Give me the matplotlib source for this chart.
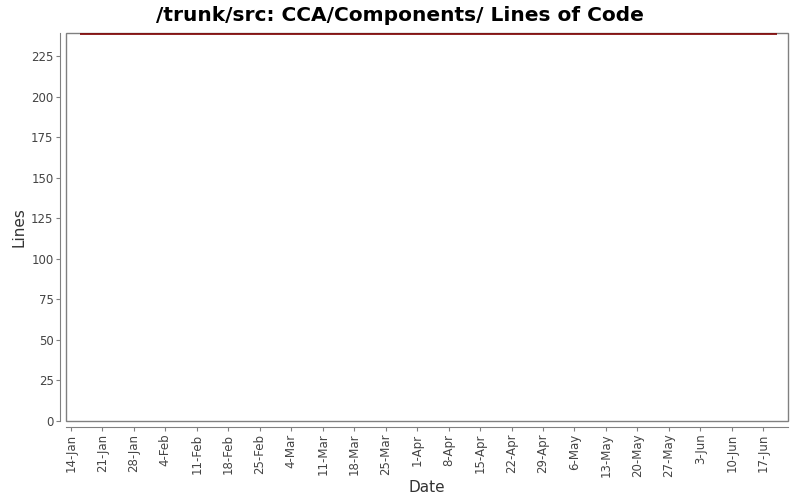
import datetime as dt
import matplotlib
matplotlib.use("Agg")
import matplotlib.pyplot as plt
import matplotlib.dates as mdates
from matplotlib.patches import Rectangle

# datos
dates = [dt.date(2013, 1, 16), dt.date(2013, 6, 20)]
lines = [239, 239]
tick_dates = [dt.date(2013, 1, 14) + dt.timedelta(days=7 * i) for i in range(23)]
tick_labels = [f"{d.day}-{d.strftime('%b')}" for d in tick_dates]
y_ticks = list(range(0, 226, 25))

fig = plt.figure(figsize=(8, 5), dpi=100)
ax = fig.add_axes([66 / 800, 1 - 421 / 500, (788 - 66) / 800, (421 - 33) / 500])

ax.plot(dates, lines, color="#800000", lw=1.2, solid_capstyle="butt")

ax.set_xlim(mdates.date2num(dt.date(2013, 1, 13)) - 0.1, mdates.date2num(dt.date(2013, 6, 22)) + 0.5)
ax.set_ylim(0, 239.5)

ax.set_xticks([mdates.date2num(d) for d in tick_dates])
ax.xaxis.set_major_formatter(plt.FixedFormatter(tick_labels))
ax.tick_params(axis="x", labelrotation=90, labelsize=8.5, labelcolor="#444444")
ax.set_yticks(y_ticks)
ax.set_yticklabels([str(v) for v in y_ticks])
ax.tick_params(axis="y", labelsize=8.5, labelcolor="#444444")

for s in ["top", "right"]:
    ax.spines[s].set_visible(False)
for s in ["left", "bottom"]:
    ax.spines[s].set_position(("outward", 4))
    ax.spines[s].set_color("#808080")
ax.tick_params(axis="both", direction="out", length=3, color="#808080", pad=2)

ax.add_patch(Rectangle((0, 0), 1, 1, transform=ax.transAxes, fill=False,
                       edgecolor="#808080", lw=1, clip_on=False))

ax.set_xlabel("Date", fontsize=11, color="#333333", labelpad=2)
ax.set_ylabel("Lines", fontsize=11, color="#333333", labelpad=3)
fig.suptitle("/trunk/src: CCA/Components/ Lines of Code", fontsize=14.5, fontweight="bold", y=0.988)

fig.savefig("out.png", dpi=100)
